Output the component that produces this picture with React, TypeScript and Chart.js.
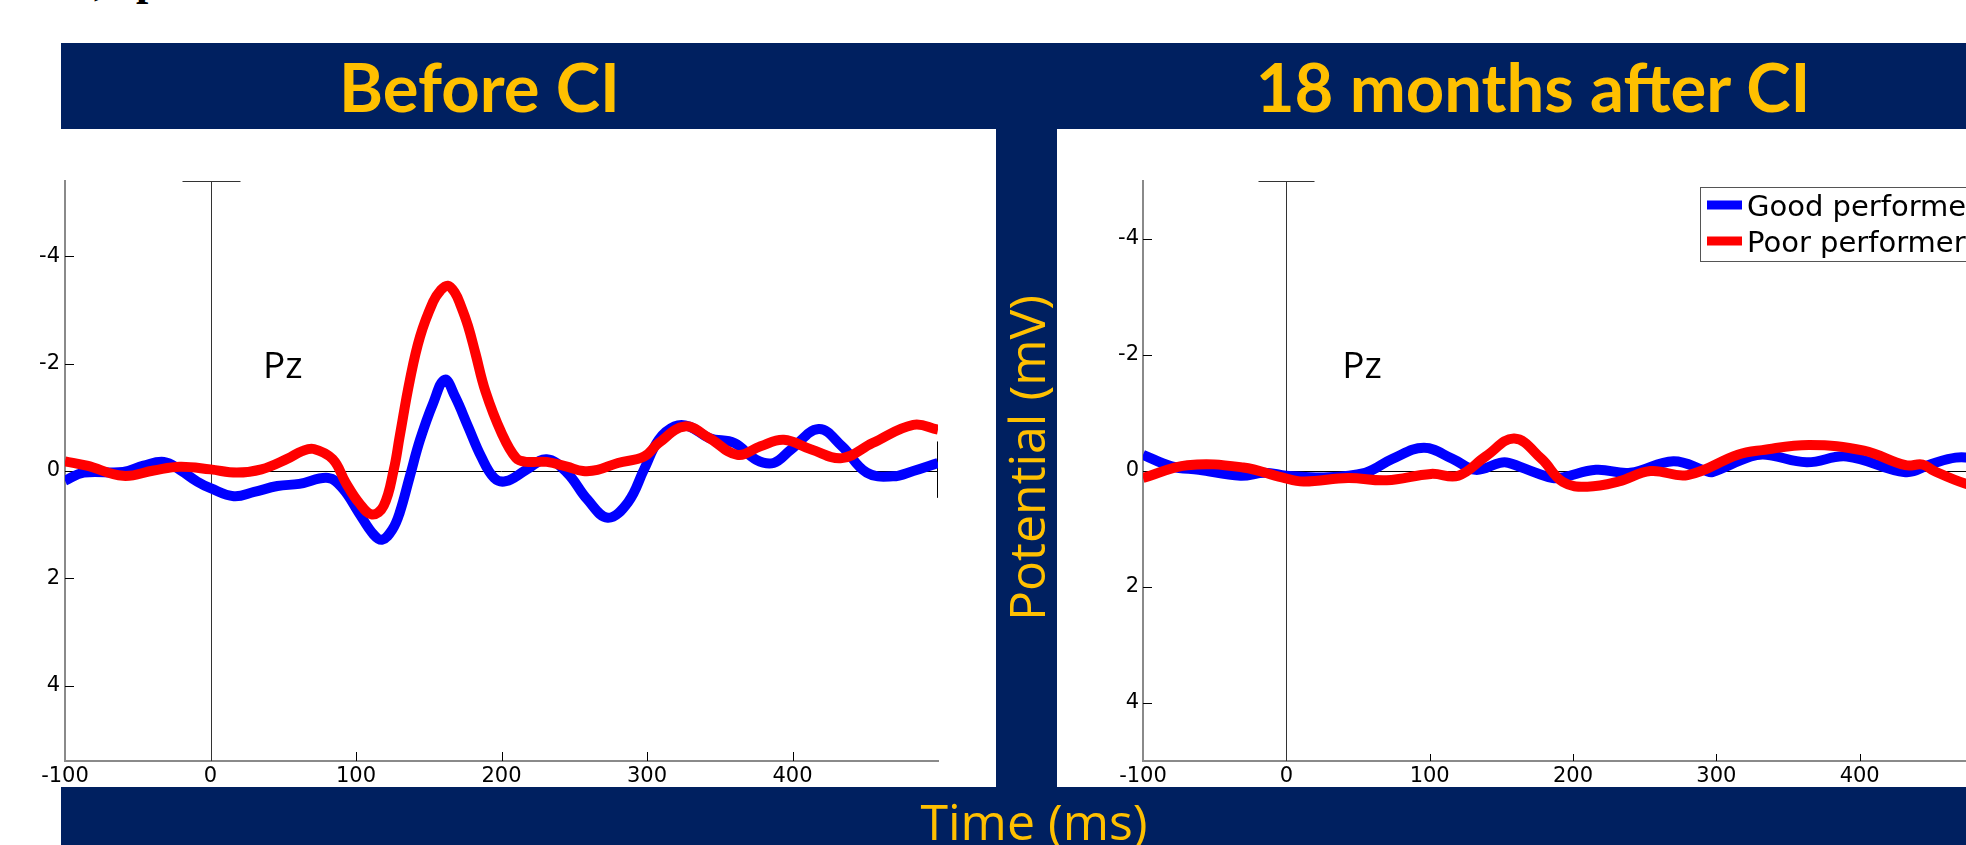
import React, { useEffect, useRef } from 'react';
import { Chart, registerables } from 'chart.js';

Chart.register(...registerables);

// ---------- text ----------
const panelTitles = ['Before CI', '18 months after CI'];
const xAxisTitle = 'Time (ms)';
const yAxisTitle = 'Potential (mV)';
const electrodeLabel = 'Pz';
const seriesLabels = ['Good performers', 'Poor performers'];
const seriesColors = ['#0000FF', '#FF0000'];

// ---------- axes ----------
const xTicks = [-100, 0, 100, 200, 300, 400, 500];
const xHiddenLabels = [500];
const yTicks = [-4, -2, 0, 2, 4];
const xRange = [-100, 500];
const beforeYRange = [-5.4, 5.4];
const afterYRange = [-5, 5];

// ---------- data: before CI ----------
const beforeGoodTime = [-100, -87, -60, -46, -32, -21, -9, 0, 16, 30, 46, 61, 81, 91, 102, 112, 118, 125, 130, 137, 144, 153, 161, 168, 177, 186, 195, 203, 217, 231, 245, 259, 273, 287, 298, 308, 319, 329, 343, 360, 375, 387, 399, 418, 434, 451, 469, 483, 500];
const beforeGoodValue = [0.18, 0.03, 0.02, -0.10, -0.17, -0.02, 0.20, 0.32, 0.47, 0.39, 0.28, 0.24, 0.13, 0.33, 0.78, 1.18, 1.28, 1.09, 0.78, 0.10, -0.58, -1.26, -1.70, -1.39, -0.83, -0.27, 0.13, 0.19, -0.02, -0.22, 0.03, 0.53, 0.87, 0.58, -0.03, -0.58, -0.83, -0.83, -0.61, -0.52, -0.21, -0.15, -0.40, -0.78, -0.46, 0.03, 0.10, 0.00, -0.15];

const beforePoorTime = [-100, -85, -60, -39, -21, 0, 18, 35, 53, 63, 71, 84, 93, 102, 111, 119, 126, 130, 137, 144, 153, 158, 163, 168, 172, 177, 182, 189, 200, 210, 217, 231, 245, 256, 266, 280, 298, 308, 326, 343, 362, 378, 394, 413, 434, 455, 483, 500];
const beforePoorValue = [-0.18, -0.10, 0.09, -0.01, -0.08, -0.03, 0.03, -0.03, -0.23, -0.37, -0.41, -0.22, 0.22, 0.59, 0.81, 0.65, -0.03, -0.64, -1.69, -2.50, -3.15, -3.36, -3.45, -3.32, -3.08, -2.70, -2.20, -1.48, -0.71, -0.24, -0.17, -0.17, -0.08, 0.00, -0.02, -0.15, -0.27, -0.52, -0.83, -0.61, -0.30, -0.46, -0.58, -0.40, -0.24, -0.52, -0.86, -0.77];

// ---------- data: 18 months after CI ----------
const afterGoodTime = [-100, -80, -61, -32, -15, 0, 24, 55, 74, 96, 116, 132, 149, 155, 174, 186, 193, 216, 240, 270, 293, 297, 324, 335, 363, 391, 432, 450, 467, 480, 492];
const afterGoodValue = [-0.28, -0.08, -0.02, 0.08, 0.03, 0.08, 0.11, 0.03, -0.21, -0.40, -0.21, -0.02, -0.14, -0.14, 0.03, 0.12, 0.11, -0.02, 0.03, -0.17, 0.00, 0.02, -0.25, -0.28, -0.15, -0.25, 0.02, -0.12, -0.23, -0.22, -0.18];

const afterPoorTime = [-100, -69, -30, -3, 12, 43, 70, 101, 120, 139, 159, 178, 193, 210, 232, 254, 280, 315, 332, 365, 403, 432, 444, 452, 474, 492];
const afterPoorValue = [0.12, -0.10, -0.06, 0.11, 0.18, 0.12, 0.16, 0.05, 0.08, -0.25, -0.56, -0.21, 0.19, 0.27, 0.18, 0.00, 0.07, -0.28, -0.36, -0.45, -0.35, -0.10, -0.11, 0.00, 0.22, 0.32];

// ---------- annotation anchors (data units) ----------
const beforeLabelAt = [36, -1.73];
const afterLabelAt = [39, -1.61];
const baselineCapRange = [-0.55, 0.5];

const NAVY = '#002060';
const GOLD = '#FFC000';
const TICK_FONT = "'DejaVu Sans'";

type Pt = { x: number; y: number };
const toPoints = (t: number[], v: number[]): Pt[] => t.map((x, i) => ({ x, y: v[i] }));

const decorPlugin = {
  id: 'eegDecor',
  beforeDatasetsDraw(chart: any, _args: any, opts: any) {
    const { ctx, chartArea: a, scales } = chart;
    const x = scales.x;
    const y = scales.y;
    ctx.save();
    ctx.lineWidth = 1;
    ctx.strokeStyle = '#000';
    ctx.beginPath();
    const y0 = Math.round(y.getPixelForValue(0)) + 0.5;
    ctx.moveTo(a.left, y0);
    ctx.lineTo(a.right, y0);
    const xe = Math.round(x.getPixelForValue(x.max)) - 0.5;
    ctx.moveTo(xe, y.getPixelForValue(baselineCapRange[0]));
    ctx.lineTo(xe, y.getPixelForValue(baselineCapRange[1]));
    yTicks.forEach((v) => {
      const py = Math.round(y.getPixelForValue(v)) + 0.5;
      ctx.moveTo(a.left, py);
      ctx.lineTo(a.left + opts.yTickLen, py);
    });
    xTicks
      .filter((v) => v > x.min && v < x.max && v !== 0)
      .forEach((v) => {
        const px = Math.round(x.getPixelForValue(v)) + 0.5;
        ctx.moveTo(px, a.bottom);
        ctx.lineTo(px, a.bottom - opts.xTickLen);
      });
    ctx.stroke();
    ctx.strokeStyle = '#333';
    ctx.beginPath();
    const x0 = Math.round(x.getPixelForValue(0)) + 0.5;
    ctx.moveTo(x0, a.top);
    ctx.lineTo(x0, a.bottom);
    ctx.moveTo(x0 - opts.capHalf, a.top + 0.5);
    ctx.lineTo(x0 + opts.capHalf, a.top + 0.5);
    ctx.stroke();
    ctx.restore();
  },
  afterDraw(chart: any, _args: any, opts: any) {
    const { ctx, scales } = chart;
    const x = scales.x;
    const y = scales.y;
    ctx.save();
    ctx.fillStyle = '#000';
    ctx.textAlign = 'left';
    ctx.textBaseline = 'alphabetic';
    ctx.font = "37px 'Open Sans'";
    ctx.fillText(electrodeLabel, x.getPixelForValue(opts.labelAt[0]), y.getPixelForValue(opts.labelAt[1]));
    if (opts.legend) {
      const L = opts.legend;
      ctx.fillStyle = '#fff';
      ctx.fillRect(L.left, L.top, L.width, L.height);
      ctx.strokeStyle = '#555';
      ctx.lineWidth = 1;
      ctx.strokeRect(L.left + 0.5, L.top + 0.5, L.width, L.height);
      const datasets = chart.data.datasets;
      ctx.font = "29px 'DejaVu Sans'";
      datasets.forEach((ds: any, i: number) => {
        const cy = L.top + L.rowY[i];
        ctx.strokeStyle = ds.borderColor;
        ctx.lineWidth = 9;
        ctx.lineCap = 'butt';
        ctx.beginPath();
        ctx.moveTo(L.left + 7, cy);
        ctx.lineTo(L.left + 42, cy);
        ctx.stroke();
        ctx.fillStyle = '#000';
        ctx.fillText(ds.label, L.left + 47, cy + 10.5);
      });
    }
    ctx.restore();
  },
};

function makeConfig(
  good: Pt[],
  poor: Pt[],
  yRange: number[],
  lay: { yWidth: number; right: number; top: number; xHeight: number; labelPad: number },
  decor: any
): any {
  const lineStyle = {
    borderWidth: 10,
    pointRadius: 0,
    fill: false,
    tension: 0.4,
    borderJoinStyle: 'round',
    borderCapStyle: 'butt',
  };
  return {
    type: 'line',
    data: {
      datasets: [
        {
          label: seriesLabels[0],
          data: good,
          borderColor: seriesColors[0],
          backgroundColor: seriesColors[0],
          order: 1,
          ...lineStyle,
        },
        {
          label: seriesLabels[1],
          data: poor,
          borderColor: seriesColors[1],
          backgroundColor: seriesColors[1],
          order: 0,
          ...lineStyle,
        },
      ],
    },
    options: {
      responsive: false,
      animation: false,
      events: [],
      layout: { padding: { left: 0, right: lay.right, top: lay.top, bottom: 0 } },
      plugins: {
        legend: { display: false },
        tooltip: { enabled: false },
        eegDecor: decor,
      },
      scales: {
        x: {
          type: 'linear',
          min: xRange[0],
          max: xRange[1],
          afterBuildTicks: (ax: any) => {
            ax.ticks = xTicks.map((v) => ({ value: v }));
          },
          afterFit: (ax: any) => {
            ax.height = lay.xHeight;
          },
          grid: { display: false, drawTicks: false },
          border: { display: true, color: '#8a8a8a', width: 2 },
          ticks: {
            autoSkip: false,
            maxRotation: 0,
            minRotation: 0,
            padding: 3,
            color: '#000',
            font: { family: TICK_FONT, size: 21 },
            callback: (v: number) => (xHiddenLabels.includes(v) ? '' : String(v)),
          },
        },
        y: {
          type: 'linear',
          reverse: true,
          min: yRange[0],
          max: yRange[1],
          afterBuildTicks: (ax: any) => {
            ax.ticks = yTicks.map((v) => ({ value: v }));
          },
          afterFit: (ax: any) => {
            ax.width = lay.yWidth;
          },
          grid: { display: false, drawTicks: false },
          border: { display: true, color: '#8a8a8a', width: 2 },
          ticks: {
            autoSkip: false,
            padding: lay.labelPad,
            color: '#000',
            font: { family: TICK_FONT, size: 21 },
            callback: (v: number) => String(v),
          },
        },
      },
    },
    plugins: [decorPlugin],
  };
}

const abs = (s: React.CSSProperties): React.CSSProperties => ({ position: 'absolute', ...s });

export default function App() {
  const leftRef = useRef<HTMLCanvasElement>(null);
  const rightRef = useRef<HTMLCanvasElement>(null);

  useEffect(() => {
    const c1 = new Chart(
      leftRef.current as HTMLCanvasElement,
      makeConfig(
        toPoints(beforeGoodTime, beforeGoodValue),
        toPoints(beforePoorTime, beforePoorValue),
        beforeYRange,
        { yWidth: 65, right: 58, top: 52, xHeight: 26, labelPad: 5 },
        { labelAt: beforeLabelAt, capHalf: 29, xTickLen: 9, yTickLen: 9 }
      )
    );
    const c2 = new Chart(
      rightRef.current as HTMLCanvasElement,
      makeConfig(
        toPoints(afterGoodTime, afterGoodValue),
        toPoints(afterPoorTime, afterPoorValue),
        afterYRange,
        { yWidth: 86, right: 54, top: 52, xHeight: 26, labelPad: 4 },
        {
          labelAt: afterLabelAt,
          capHalf: 28,
          xTickLen: 7,
          yTickLen: 9,
          legend: { left: 643, top: 58, width: 400, height: 74, rowY: [18, 54] },
        }
      )
    );
    return () => {
      c1.destroy();
      c2.destroy();
    };
  }, []);

  return (
    <div
      style={{
        position: 'fixed',
        left: 0,
        top: 0,
        width: 1966,
        height: 845,
        overflow: 'hidden',
        background: '#fff',
      }}
    >
      <span style={abs({ left: 94, top: -41, font: "bold 44px 'Liberation Serif'", lineHeight: '44px', color: '#000' })}>,</span>
      <span style={abs({ left: 136, top: -41, font: "bold 44px 'Liberation Serif'", lineHeight: '44px', color: '#000' })}>p</span>

      <div style={abs({ left: 61, top: 43, width: 1905, height: 86, background: NAVY })} />
      <div style={abs({ left: 996, top: 129, width: 61, height: 658, background: NAVY })} />
      <div style={abs({ left: 61, top: 787, width: 1905, height: 58, background: NAVY })} />

      <div
        style={abs({
          left: 479.5,
          top: 43,
          transform: 'translateX(-50%)',
          font: "bold 67px 'Lato'",
          lineHeight: '86px',
          color: GOLD,
          whiteSpace: 'nowrap',
        })}
      >
        {panelTitles[0]}
      </div>
      <div
        style={abs({
          left: 1533,
          top: 43,
          transform: 'translateX(-50%)',
          font: "bold 67px 'Lato'",
          lineHeight: '86px',
          color: GOLD,
          whiteSpace: 'nowrap',
        })}
      >
        {panelTitles[1]}
      </div>
      <div
        style={abs({
          left: 1034,
          top: 795.6,
          transform: 'translateX(-50%)',
          font: "50px 'Open Sans'",
          lineHeight: '50px',
          color: GOLD,
          whiteSpace: 'nowrap',
        })}
      >
        {xAxisTitle}
      </div>
      <div
        style={abs({
          left: 1025.6,
          top: 458,
          transform: 'translate(-50%, -50%) rotate(-90deg)',
          font: "50px 'Open Sans'",
          lineHeight: '50px',
          color: GOLD,
          whiteSpace: 'nowrap',
        })}
      >
        {yAxisTitle}
      </div>

      <canvas ref={leftRef} width={996} height={658} style={abs({ left: 0, top: 129, width: 996, height: 658 })} />
      <canvas ref={rightRef} width={1000} height={658} style={abs({ left: 1057, top: 129, width: 1000, height: 658 })} />
    </div>
  );
}
